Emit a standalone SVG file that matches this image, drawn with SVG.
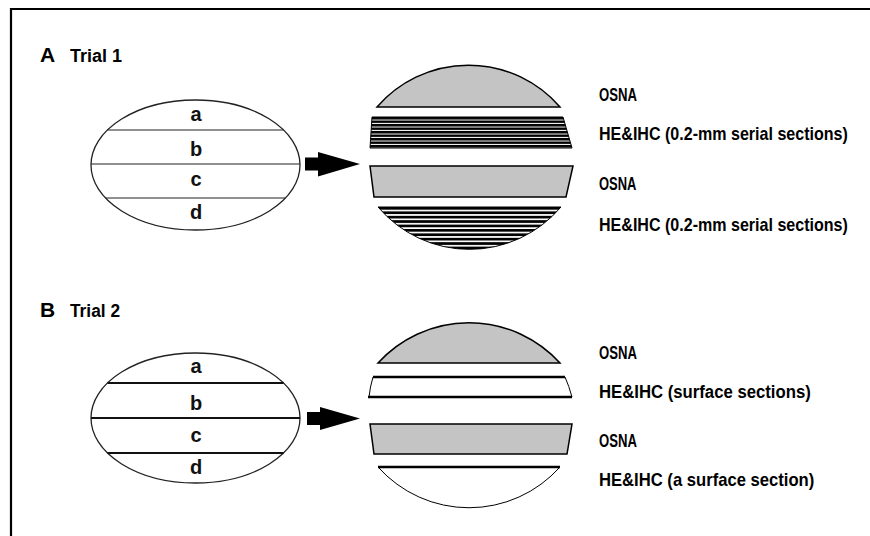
<svg xmlns="http://www.w3.org/2000/svg" width="870" height="536" viewBox="0 0 870 536">
<style>
.frame{stroke:#000;stroke-width:2.2;fill:none}
.ell{fill:#fff;stroke:#222;stroke-width:1.3}
.cut1{stroke:#222;stroke-width:1.1}
.cut2{stroke:#111;stroke-width:2}
.lbl{font-family:"Liberation Sans",Arial,sans-serif;font-weight:bold;font-size:20px;fill:#111;text-anchor:middle}
.panel{font-family:"Liberation Sans",Arial,sans-serif;font-weight:bold;font-size:21px;fill:#000}
.trial{font-family:"Liberation Sans",Arial,sans-serif;font-weight:bold;font-size:18px;fill:#000}
.desc{font-family:"Liberation Sans",Arial,sans-serif;font-weight:bold;font-size:18.5px;fill:#000}
.gray{fill:#c4c4c4;stroke:#000;stroke-width:1.5}
.str{stroke:#000;stroke-width:1}
.arrow{fill:#000}
.thick{stroke:#000;stroke-width:2.6;fill:none}
.thin{stroke:#000;stroke-width:1;fill:none}
</style>
<defs>
<pattern id="dense" patternUnits="userSpaceOnUse" width="10" height="3.5" y="117">
<rect width="10" height="3.5" fill="#fff"/>
<rect width="10" height="2.5" fill="#000"/>
</pattern>
<pattern id="loose" patternUnits="userSpaceOnUse" width="10" height="4.4" y="207">
<rect width="10" height="4.4" fill="#fff"/>
<rect width="10" height="2.7" fill="#000"/>
</pattern>
</defs>
<rect width="870" height="536" fill="#fff"/>
<g id="frame">
<line class="frame" x1="10" y1="9" x2="870" y2="9"/>
<line class="frame" x1="11" y1="8" x2="11" y2="536"/>
</g>
<g id="panelA-title">
<text class="panel" x="40" y="62">A</text>
<text class="trial" x="70" y="62" textLength="52" lengthAdjust="spacingAndGlyphs">Trial 1</text>
</g>
<g id="nodeA-node">
<ellipse class="ell" cx="195.5" cy="165" rx="104.5" ry="65"/>
<line class="cut1" x1="107.5" y1="130" x2="283.5" y2="130"/>
<line class="cut1" x1="91" y1="164" x2="300" y2="164"/>
<line class="cut1" x1="105.5" y1="198" x2="285.5" y2="198"/>
<text class="lbl" x="196" y="121">a</text>
<text class="lbl" x="196" y="156">b</text>
<text class="lbl" x="196" y="186">c</text>
<text class="lbl" x="196" y="219">d</text>
</g>
<g id="nodeA-sections">
<path class="gray" d="M377,107 A121,121 0 0 1 560,107 Z"/>
<path class="str" fill="url(#dense)" d="M372,117 L563,117 L572,148 L370,148 Z"/>
<path class="gray" d="M370,166 L573,166 L566,197 L374,197 Z"/>
<path class="str" fill="url(#loose)" d="M378,207 L561,207 A120,120 0 0 1 378,207 Z"/>
</g>
<g id="nodeA-labels">
<text class="desc" transform="translate(599,101) scale(0.71,1)">OSNA</text>
<text class="desc" transform="translate(599,140) scale(0.868,1)">HE&amp;IHC (0.2-mm serial sections)</text>
<text class="desc" transform="translate(599,190) scale(0.7,1)">OSNA</text>
<text class="desc" transform="translate(599,231) scale(0.868,1)">HE&amp;IHC (0.2-mm serial sections)</text>
</g>
<g id="panelB-title">
<text class="panel" x="40" y="317">B</text>
<text class="trial" x="70" y="317" textLength="50" lengthAdjust="spacingAndGlyphs">Trial 2</text>
</g>
<g id="nodeB-node">
<ellipse class="ell" cx="195.5" cy="418" rx="104.5" ry="65"/>
<line class="cut2" x1="107.5" y1="383" x2="283.5" y2="383"/>
<line class="cut2" x1="91" y1="418" x2="300" y2="418"/>
<line class="cut2" x1="107.5" y1="453" x2="283.5" y2="453"/>
<text class="lbl" x="196" y="373">a</text>
<text class="lbl" x="196" y="410">b</text>
<text class="lbl" x="196" y="442">c</text>
<text class="lbl" x="196" y="474">d</text>
</g>
<g id="nodeB-sections">
<path class="gray" d="M378,363 A123,123 0 0 1 560,363 Z"/>
<path fill="#fff" d="M373,377 L565,377 L572,397 L369,397 Z"/>
<path class="thin" d="M373,377 Q370,387 369,397 M565,377 Q569,386 572,397"/>
<line class="thick" x1="373" y1="377" x2="565" y2="377"/>
<line class="thick" x1="368" y1="397" x2="572" y2="397"/>
<path class="gray" d="M370,424 L572,424 L567,454 L374,454 Z"/>
<path fill="#fff" class="thin" d="M378,467 L560,467 A122,122 0 0 1 378,467 Z"/>
<line class="thick" x1="378" y1="467" x2="560" y2="467"/>
</g>
<g id="nodeB-labels">
<text class="desc" transform="translate(599,359) scale(0.71,1)">OSNA</text>
<text class="desc" transform="translate(599,398) scale(0.904,1)">HE&amp;IHC (surface sections)</text>
<text class="desc" transform="translate(599,447) scale(0.71,1)">OSNA</text>
<text class="desc" transform="translate(599,486) scale(0.9,1)">HE&amp;IHC (a surface section)</text>
</g>
<g id="connectors">
<path class="arrow" d="M305,157.5 H318 V152 L360,164 L318,176.5 V170.5 H305 Z"/>
<path class="arrow" d="M307,412 H320 V407 L360,418.5 L320,430 V425 H307 Z"/>
</g>
</svg>
